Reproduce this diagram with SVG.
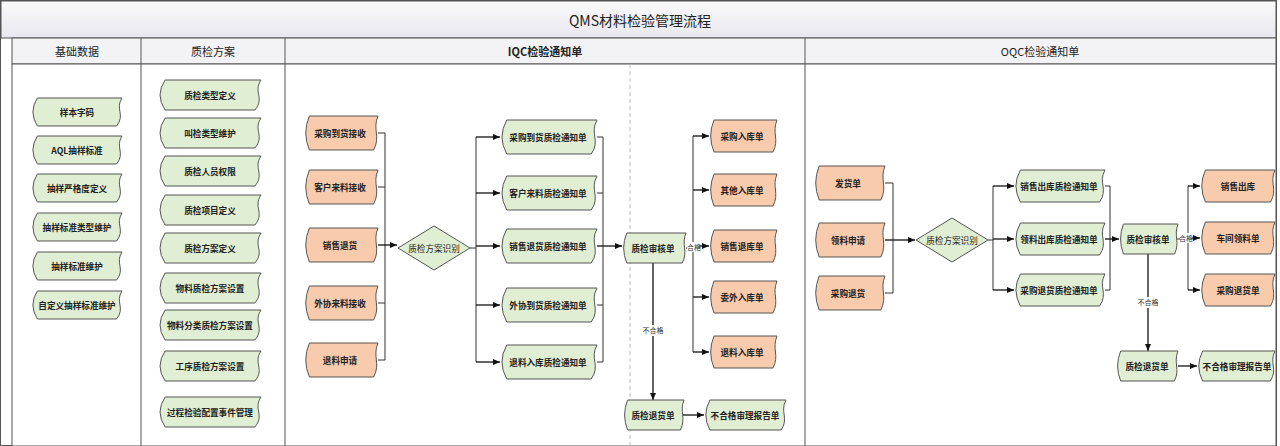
<svg xmlns="http://www.w3.org/2000/svg" xmlns:xlink="http://www.w3.org/1999/xlink" width="1280" height="446" viewBox="0 0 1280 446">
<style>
.g{fill:#e0eed3;stroke:#555;stroke-width:1}
.o{fill:#f8cbad;stroke:#555;stroke-width:1}
.t{font-family:"Noto Sans CJK SC","Liberation Sans",sans-serif;font-size:8.6px;font-weight:bold;fill:#222;text-anchor:middle;dominant-baseline:central}
.h{font-family:"Noto Sans CJK SC","Liberation Sans",sans-serif;font-size:11px;fill:#222;text-anchor:middle;dominant-baseline:central}
.l{fill:none;stroke:#333;stroke-width:1}
.a{fill:none;stroke:#111;stroke-width:1.3;marker-end:url(#ar)}
.s{font-family:"Noto Sans CJK SC","Liberation Sans",sans-serif;font-size:7px;fill:#333;text-anchor:middle;dominant-baseline:central}
</style>
<defs>
<linearGradient id="tg" x1="0" y1="0" x2="0" y2="1"><stop offset="0" stop-color="#fafafa"/><stop offset="1" stop-color="#e8e8ee"/></linearGradient>
<marker id="ar" markerWidth="8" markerHeight="8" refX="7" refY="4" orient="auto" markerUnits="userSpaceOnUse"><path d="M0,1 L7,4 L0,7 Z" fill="#111"/></marker>
<path id="tp" d="M6,0 H100 C92,12 104,18 94,30 H6 Q-4,15 6,0 Z" vector-effect="non-scaling-stroke"/>
</defs>
<rect x="0" y="0" width="1280" height="446" fill="#fff"/>
<rect x="0.5" y="0.5" width="1276" height="445" fill="none" stroke="#555"/>
<rect x="1" y="1" width="1275" height="37" fill="url(#tg)" stroke="#555"/>
<text class="h" x="640" y="20" style="font-size:14px">QMS材料检验管理流程</text>
<rect x="12" y="38" width="1264" height="26" fill="#f3f3f5" stroke="#555"/>
<rect x="12" y="64" width="1264" height="382" fill="#fff" stroke="#555"/>
<line x1="141" y1="38" x2="141" y2="446" stroke="#555"/>
<line x1="285" y1="38" x2="285" y2="446" stroke="#555"/>
<line x1="805" y1="38" x2="805" y2="446" stroke="#555"/>
<line x1="630" y1="64" x2="630" y2="446" stroke="#bbb" stroke-dasharray="4,3"/>
<text class="h" x="77" y="51">基础数据</text>
<text class="h" x="213" y="51">质检方案</text>
<text class="h" x="545" y="51" style="font-weight:bold">IQC检验通知单</text>
<text class="h" x="1040" y="51">OQC检验通知单</text>

<g id="connectors">
<path class="l" d="M378,133H385M378,187H385M378,303H385M378,360H385M385,133V360"/>
<path class="a" d="M378,245H397"/>
<path class="l" d="M470,248H476M476,137V362"/>
<path class="a" d="M476,137H500"/><path class="a" d="M476,193H500"/><path class="a" d="M476,246H500"/><path class="a" d="M476,305H500"/><path class="a" d="M476,362H500"/>
<path class="l" d="M597,137H603M597,193H603M597,305H603M597,362H603M603,137V362"/>
<path class="a" d="M597,246H622"/>
<path class="l" d="M686,248H693M693,136V352"/>
<path class="a" d="M693,136H709"/><path class="a" d="M693,190H709"/><path class="a" d="M693,246H709"/><path class="a" d="M693,297H709"/><path class="a" d="M693,352H709"/>
<path class="a" d="M653,263V400"/>
<path class="a" d="M683,415H704"/>
<rect x="687" y="242" width="12" height="10" fill="#fff"/><text class="s" x="694" y="247">合格</text>
<rect x="642" y="325" width="22" height="11" fill="#fff"/><text class="s" x="653" y="330">不合格</text>

<path class="l" d="M885,183H893M885,293H893M893,183V293"/>
<path class="a" d="M885,240H915"/>
<path class="l" d="M988,240H993M993,186V290"/>
<path class="a" d="M993,186H1014"/><path class="a" d="M993,239H1014"/><path class="a" d="M993,290H1014"/>
<path class="l" d="M1105,186H1110M1105,290H1110M1110,186V290"/>
<path class="a" d="M1105,239H1119"/>
<path class="l" d="M1176,239H1188M1188,186V290"/>
<path class="a" d="M1188,186H1200"/><path class="a" d="M1188,238H1200"/><path class="a" d="M1188,290H1200"/>
<path class="a" d="M1148,254V351"/>
<path class="a" d="M1178,366H1197"/>
<rect x="1180" y="233" width="12" height="10" fill="#fff"/><text class="s" x="1186" y="238">合格</text>
<rect x="1137" y="297" width="22" height="11" fill="#fff"/><text class="s" x="1148" y="302">不合格</text>
</g>

<g id="n1"><use href="#tp" class="g" transform="translate(32,98) scale(0.9,0.933)"/><text class="t" x="77" y="112">样本字码</text></g>
<g id="n2"><use href="#tp" class="g" transform="translate(32,136) scale(0.9,0.933)"/><text class="t" x="77" y="150">AQL抽样标准</text></g>
<g id="n3"><use href="#tp" class="g" transform="translate(32,174) scale(0.9,0.933)"/><text class="t" x="77" y="188">抽样严格度定义</text></g>
<g id="n4"><use href="#tp" class="g" transform="translate(32,213) scale(0.9,0.933)"/><text class="t" x="77" y="227">抽样标准类型维护</text></g>
<g id="n5"><use href="#tp" class="g" transform="translate(32,252) scale(0.9,0.933)"/><text class="t" x="77" y="266">抽样标准维护</text></g>
<g id="n6"><use href="#tp" class="g" transform="translate(32,291) scale(0.9,0.933)"/><text class="t" x="77" y="305">自定义抽样标准维护</text></g>

<g id="p1"><use href="#tp" class="g" transform="translate(159,80) scale(1.02,1)"/><text class="t" x="210" y="95">质检类型定义</text></g>
<g id="p2"><use href="#tp" class="g" transform="translate(159,118) scale(1.02,1)"/><text class="t" x="210" y="133">叫检类型维护</text></g>
<g id="p3"><use href="#tp" class="g" transform="translate(159,156) scale(1.02,1)"/><text class="t" x="210" y="171">质检人员权限</text></g>
<g id="p4"><use href="#tp" class="g" transform="translate(159,195) scale(1.02,1)"/><text class="t" x="210" y="210">质检项目定义</text></g>
<g id="p5"><use href="#tp" class="g" transform="translate(159,233) scale(1.02,1)"/><text class="t" x="210" y="248">质检方案定义</text></g>
<g id="p6"><use href="#tp" class="g" transform="translate(159,273) scale(1.02,1)"/><text class="t" x="210" y="288">物料质检方案设置</text></g>
<g id="p7"><use href="#tp" class="g" transform="translate(159,310) scale(1.02,1)"/><text class="t" x="210" y="325">物料分类质检方案设置</text></g>
<g id="p8"><use href="#tp" class="g" transform="translate(159,351) scale(1.02,1)"/><text class="t" x="210" y="366">工序质检方案设置</text></g>
<g id="p9"><use href="#tp" class="g" transform="translate(159,397) scale(1.02,1)"/><text class="t" x="210" y="412">过程检验配置事件管理</text></g>

<g id="i1"><use href="#tp" class="o" transform="translate(305,116) scale(0.73,1.133)"/><text class="t" x="340" y="133">采购到货接收</text></g>
<g id="i2"><use href="#tp" class="o" transform="translate(305,170) scale(0.73,1.133)"/><text class="t" x="340" y="187">客户来料接收</text></g>
<g id="i3"><use href="#tp" class="o" transform="translate(305,228) scale(0.73,1.133)"/><text class="t" x="340" y="245">销售退货</text></g>
<g id="i4"><use href="#tp" class="o" transform="translate(305,286) scale(0.73,1.133)"/><text class="t" x="340" y="303">外协来料接收</text></g>
<g id="i5"><use href="#tp" class="o" transform="translate(305,343) scale(0.73,1.133)"/><text class="t" x="340" y="360">退料申请</text></g>
<g id="d1"><path class="g" d="M398,248 L434,226 L470,248 L434,270 Z"/><text class="t" x="434" y="248" style="font-weight:normal">质检方案识别</text></g>
<g id="q1"><use href="#tp" class="g" transform="translate(501,120) scale(0.96,1.133)"/><text class="t" x="548" y="137">采购到货质检通知单</text></g>
<g id="q2"><use href="#tp" class="g" transform="translate(501,176) scale(0.96,1.133)"/><text class="t" x="548" y="193">客户来料质检通知单</text></g>
<g id="q3"><use href="#tp" class="g" transform="translate(501,229) scale(0.96,1.133)"/><text class="t" x="548" y="246">销售退货质检通知单</text></g>
<g id="q4"><use href="#tp" class="g" transform="translate(501,288) scale(0.96,1.133)"/><text class="t" x="548" y="305">外协到货质检通知单</text></g>
<g id="q5"><use href="#tp" class="g" transform="translate(501,345) scale(0.96,1.133)"/><text class="t" x="548" y="362">退料入库质检通知单</text></g>
<g id="r1"><use href="#tp" class="g" transform="translate(623,233) scale(0.63,1)"/><text class="t" x="653" y="248">质检审核单</text></g>
<g id="w1"><use href="#tp" class="o" transform="translate(710,120) scale(0.67,1.067)"/><text class="t" x="742" y="136">采购入库单</text></g>
<g id="w2"><use href="#tp" class="o" transform="translate(710,174) scale(0.67,1.067)"/><text class="t" x="742" y="190">其他入库单</text></g>
<g id="w3"><use href="#tp" class="o" transform="translate(710,230) scale(0.67,1.067)"/><text class="t" x="742" y="246">销售退库单</text></g>
<g id="w4"><use href="#tp" class="o" transform="translate(710,281) scale(0.67,1.067)"/><text class="t" x="742" y="297">委外入库单</text></g>
<g id="w5"><use href="#tp" class="o" transform="translate(710,336) scale(0.67,1.067)"/><text class="t" x="742" y="352">退料入库单</text></g>
<g id="b1"><use href="#tp" class="g" transform="translate(624,400) scale(0.6,1)"/><text class="t" x="653" y="415">质检退货单</text></g>
<g id="f1"><use href="#tp" class="g" transform="translate(705,400) scale(0.81,1)"/><text class="t" x="745" y="415">不合格审理报告单</text></g>

<g id="o1"><use href="#tp" class="o" transform="translate(815,166) scale(0.7,1.133)"/><text class="t" x="848" y="183">发货单</text></g>
<g id="o2"><use href="#tp" class="o" transform="translate(815,223) scale(0.7,1.133)"/><text class="t" x="848" y="240">领料申请</text></g>
<g id="o3"><use href="#tp" class="o" transform="translate(815,276) scale(0.7,1.133)"/><text class="t" x="848" y="293">采购退货</text></g>
<g id="d2"><path class="g" d="M916,240 L952,218 L988,240 L952,262 Z"/><text class="t" x="952" y="240" style="font-weight:normal">质检方案识别</text></g>
<g id="e1"><use href="#tp" class="g" transform="translate(1015,170) scale(0.9,1.067)"/><text class="t" x="1059" y="186">销售出库质检通知单</text></g>
<g id="e2"><use href="#tp" class="g" transform="translate(1015,223) scale(0.9,1.067)"/><text class="t" x="1059" y="239">领料出库质检通知单</text></g>
<g id="e3"><use href="#tp" class="g" transform="translate(1015,274) scale(0.9,1.067)"/><text class="t" x="1059" y="290">采购退货质检通知单</text></g>
<g id="r2"><use href="#tp" class="g" transform="translate(1120,224) scale(0.58,1)"/><text class="t" x="1148" y="239">质检审核单</text></g>
<g id="v1"><use href="#tp" class="o" transform="translate(1201,170) scale(0.74,1.067)"/><text class="t" x="1238" y="186">销售出库</text></g>
<g id="v2"><use href="#tp" class="o" transform="translate(1201,222) scale(0.74,1.067)"/><text class="t" x="1238" y="238">车间领料单</text></g>
<g id="v3"><use href="#tp" class="o" transform="translate(1201,274) scale(0.74,1.067)"/><text class="t" x="1238" y="290">采购退货单</text></g>
<g id="b2"><use href="#tp" class="g" transform="translate(1117,351) scale(0.61,1)"/><text class="t" x="1147" y="366">质检退货单</text></g>
<g id="f2"><use href="#tp" class="g" transform="translate(1198,351) scale(0.77,1)"/><text class="t" x="1237" y="366">不合格审理报告单</text></g>
</svg>
